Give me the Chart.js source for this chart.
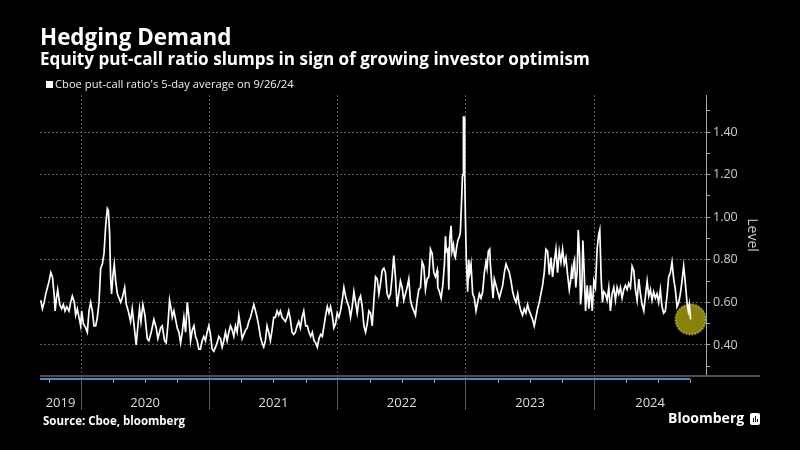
<!DOCTYPE html>
<html>
<head>
<meta charset="utf-8">
<script src="https://cdn.jsdelivr.net/npm/chart.js@4.4.1/dist/chart.umd.min.js"></script>
<style>
  body { margin: 0; background: #000; }
  #wrap { position: relative; width: 800px; height: 450px; background: #000; color: #fff; font-family: "Open Sans", sans-serif; }
  #chart { position: absolute; left: 0; top: 0; }
  .title { position: absolute; left: 40px; top: 26px; font-size: 22.4px; line-height: 22px; font-weight: 700; }
  .subtitle { position: absolute; left: 40px; top: 50px; font-size: 17.1px; line-height: 17px; font-weight: 700; }
  .legend { position: absolute; left: 46px; top: 78px; font-size: 11.2px; line-height: 11px; color: #eee; }
  .legend i { display: inline-block; width: 7px; height: 7px; background: #fff; margin-right: 2px; vertical-align: 0px; }
  .source { position: absolute; left: 43px; top: 415px; font-size: 11.5px; line-height: 12px; font-weight: 700; }
  .brand { position: absolute; left: 668px; top: 410px; font-size: 14px; line-height: 16px; font-weight: 700; }
  .brand .ico { display: inline-block; position: relative; width: 10px; height: 12px; background: #fff; border-radius: 2px; margin-left: 6px; vertical-align: -2px; }
  .brand .ico b { position: absolute; bottom: 3px; width: 1px; background: #000; }
</style>
</head>
<body>
<div id="wrap">
  <canvas id="chart" width="800" height="450"></canvas>
  <div class="title">Hedging Demand</div>
  <div class="subtitle">Equity put-call ratio slumps in sign of growing investor optimism</div>
  <div class="legend"><i></i>Cboe put-call ratio's 5-day average on 9/26/24</div>
  <div class="source">Source: Cboe, bloomberg</div>
  <div class="brand">Bloomberg<span class="ico"><b style="left:3px;height:4px"></b><b style="left:5px;height:6px"></b><b style="left:7px;height:3px"></b></span></div>
</div>
<script>
// put-call ratio, 5-day average (dates as decimal years)
const dates = [
  2019.686, 2019.699, 2019.712, 2019.725, 2019.738, 2019.751, 2019.764, 2019.777, 2019.790, 2019.798,
  2019.808, 2019.818, 2019.834, 2019.849, 2019.862, 2019.875, 2019.888, 2019.906, 2019.919, 2019.932,
  2019.948, 2019.958, 2019.971, 2019.984, 2019.997, 2020.005, 2020.018, 2020.036, 2020.049, 2020.062,
  2020.075, 2020.088, 2020.101, 2020.114, 2020.127, 2020.140, 2020.153, 2020.166, 2020.179, 2020.192,
  2020.205, 2020.213, 2020.223, 2020.231, 2020.238, 2020.249, 2020.259, 2020.270, 2020.283, 2020.296,
  2020.309, 2020.321, 2020.340, 2020.353, 2020.368, 2020.386, 2020.399, 2020.412, 2020.430, 2020.446,
  2020.456, 2020.467, 2020.482, 2020.498, 2020.516, 2020.529, 2020.547, 2020.568, 2020.586, 2020.599,
  2020.620, 2020.633, 2020.651, 2020.664, 2020.679, 2020.690, 2020.705,
  2020.711, 2020.724, 2020.737, 2020.750, 2020.763, 2020.776, 2020.789, 2020.802, 2020.815, 2020.828,
  2020.841, 2020.854, 2020.867, 2020.880, 2020.893, 2020.905, 2020.918, 2020.931, 2020.944, 2020.957,
  2020.970, 2020.983, 2020.996, 2021.009, 2021.022, 2021.035, 2021.048, 2021.061, 2021.074, 2021.087,
  2021.100, 2021.113, 2021.126, 2021.139, 2021.152, 2021.165, 2021.178, 2021.191, 2021.204, 2021.217,
  2021.230, 2021.243, 2021.256, 2021.269, 2021.282, 2021.295, 2021.308, 2021.321, 2021.334, 2021.347,
  2021.360, 2021.372, 2021.385, 2021.398, 2021.411, 2021.424, 2021.437, 2021.450, 2021.463, 2021.476,
  2021.489, 2021.502, 2021.515, 2021.528, 2021.541, 2021.554, 2021.567, 2021.580, 2021.593, 2021.606,
  2021.619, 2021.632, 2021.645, 2021.658, 2021.671, 2021.684, 2021.697, 2021.710, 2021.723, 2021.736,
  2021.751, 2021.764, 2021.777, 2021.790, 2021.803, 2021.816, 2021.829, 2021.842, 2021.855, 2021.868,
  2021.881, 2021.894, 2021.907, 2021.920, 2021.933, 2021.945, 2021.958, 2021.971, 2021.984, 2021.997,
  2022.010, 2022.023, 2022.036, 2022.049, 2022.062, 2022.075, 2022.088, 2022.101, 2022.114, 2022.127,
  2022.140, 2022.153, 2022.166, 2022.179, 2022.192, 2022.205, 2022.218, 2022.231, 2022.244, 2022.257,
  2022.270, 2022.283, 2022.296, 2022.309, 2022.322, 2022.335, 2022.348, 2022.361, 2022.373, 2022.386,
  2022.399, 2022.412, 2022.425, 2022.438, 2022.451, 2022.464, 2022.477, 2022.490, 2022.503, 2022.516,
  2022.529, 2022.542, 2022.555, 2022.568, 2022.581, 2022.594, 2022.607, 2022.620, 2022.633, 2022.646,
  2022.659, 2022.672, 2022.685, 2022.698, 2022.711, 2022.724, 2022.737, 2022.750, 2022.763, 2022.776,
  2022.781, 2022.794, 2022.807, 2022.820, 2022.833, 2022.841, 2022.848, 2022.859, 2022.867, 2022.874,
  2022.885, 2022.892, 2022.903, 2022.911, 2022.918, 2022.926, 2022.937, 2022.950, 2022.957, 2022.968,
  2022.973, 2022.978, 2022.981, 2022.986, 2022.991, 2022.996, 2023.004, 2023.014, 2023.022, 2023.030,
  2023.040, 2023.053, 2023.066, 2023.079, 2023.092, 2023.105, 2023.118, 2023.131, 2023.144, 2023.157,
  2023.165, 2023.175, 2023.186, 2023.191, 2023.201, 2023.212, 2023.222, 2023.235, 2023.248, 2023.261,
  2023.274, 2023.287, 2023.300, 2023.313, 2023.326, 2023.339, 2023.352, 2023.365, 2023.378, 2023.391,
  2023.404, 2023.416, 2023.429, 2023.442, 2023.455, 2023.468, 2023.481, 2023.494, 2023.507, 2023.520,
  2023.533, 2023.546, 2023.559, 2023.572, 2023.585, 2023.598, 2023.611, 2023.624, 2023.637, 2023.650,
  2023.663, 2023.676, 2023.689, 2023.702, 2023.715, 2023.728, 2023.741, 2023.754, 2023.767, 2023.780,
  2023.793, 2023.806,
  2023.816, 2023.824, 2023.832, 2023.839, 2023.847, 2023.857, 2023.868, 2023.876, 2023.886, 2023.894,
  2023.904, 2023.912, 2023.922, 2023.933, 2023.946, 2023.959, 2023.972, 2023.985, 2023.998, 2024.010,
  2024.023, 2024.036, 2024.044, 2024.055, 2024.065, 2024.075, 2024.088, 2024.101, 2024.114, 2024.127,
  2024.140, 2024.153, 2024.166, 2024.179, 2024.192, 2024.205, 2024.218, 2024.231, 2024.244, 2024.257,
  2024.270, 2024.283, 2024.296, 2024.309, 2024.322, 2024.335, 2024.348, 2024.361, 2024.374, 2024.387,
  2024.400, 2024.413, 2024.426, 2024.439, 2024.451, 2024.464, 2024.477, 2024.490, 2024.503, 2024.516,
  2024.529, 2024.542, 2024.555, 2024.568, 2024.581, 2024.594, 2024.607, 2024.620, 2024.633, 2024.646,
  2024.659, 2024.672, 2024.685, 2024.698, 2024.711, 2024.724, 2024.734, 2024.742, 2024.752
];
const ratio = [
  0.61, 0.57, 0.60, 0.64, 0.67, 0.70, 0.74, 0.72, 0.64, 0.56,
  0.62, 0.66, 0.59, 0.57, 0.59, 0.56, 0.58, 0.56, 0.60, 0.63,
  0.60, 0.54, 0.57, 0.53, 0.49, 0.56, 0.50, 0.48, 0.46, 0.56,
  0.60, 0.56, 0.49, 0.49, 0.53, 0.60, 0.76, 0.78, 0.83, 0.96,
  1.04, 1.03, 0.92, 0.71, 0.64, 0.73, 0.78, 0.70, 0.64, 0.62,
  0.60, 0.62, 0.67, 0.59, 0.56, 0.51, 0.57, 0.50, 0.40, 0.51,
  0.57, 0.51, 0.59, 0.54, 0.43, 0.42, 0.46, 0.52, 0.48, 0.43,
  0.48, 0.49, 0.42, 0.41, 0.51, 0.61, 0.56,
  0.53, 0.56, 0.52, 0.48, 0.46, 0.41, 0.46, 0.53, 0.46, 0.60,
  0.53, 0.42, 0.47, 0.49, 0.44, 0.42, 0.38, 0.38, 0.42, 0.44,
  0.42, 0.46, 0.49, 0.45, 0.38, 0.37, 0.39, 0.41, 0.44, 0.43,
  0.39, 0.42, 0.46, 0.42, 0.46, 0.49, 0.47, 0.44, 0.49, 0.46,
  0.54, 0.49, 0.43, 0.45, 0.47, 0.48, 0.51, 0.53, 0.56, 0.59,
  0.56, 0.53, 0.49, 0.44, 0.41, 0.39, 0.42, 0.49, 0.46, 0.42,
  0.47, 0.53, 0.53, 0.56, 0.54, 0.56, 0.53, 0.52, 0.51, 0.53,
  0.56, 0.52, 0.46, 0.45, 0.46, 0.49, 0.51, 0.48, 0.53, 0.56,
  0.49, 0.49, 0.46, 0.44, 0.46, 0.42, 0.41, 0.39, 0.43, 0.45,
  0.44, 0.49, 0.54, 0.58, 0.55, 0.58, 0.54, 0.48, 0.50, 0.55,
  0.53, 0.56, 0.61, 0.67, 0.63, 0.60, 0.58, 0.53, 0.58, 0.65,
  0.60, 0.55, 0.61, 0.63, 0.58, 0.49, 0.46, 0.50, 0.56, 0.55,
  0.49, 0.61, 0.72, 0.71, 0.64, 0.69, 0.75, 0.76, 0.74, 0.64,
  0.62, 0.64, 0.72, 0.82, 0.72, 0.58, 0.64, 0.70, 0.67, 0.61,
  0.64, 0.67, 0.71, 0.61, 0.58, 0.56, 0.54, 0.61, 0.66, 0.67,
  0.79, 0.77, 0.66, 0.71, 0.72, 0.85, 0.83, 0.74, 0.72, 0.75,
  0.67, 0.65, 0.62, 0.68, 0.78, 0.91, 0.84, 0.85, 0.66, 0.90,
  0.96, 0.84, 0.87, 0.82, 0.81, 0.85, 0.89, 0.91, 0.93, 1.10,
  1.19, 1.20, 1.47, 1.47, 1.20, 1.01, 0.79, 0.65, 0.80, 0.74,
  0.78, 0.64, 0.62, 0.56, 0.60, 0.64, 0.62, 0.65, 0.74, 0.79,
  0.76, 0.84, 0.85, 0.78, 0.70, 0.62, 0.71, 0.68, 0.65, 0.62,
  0.65, 0.68, 0.74, 0.78, 0.76, 0.74, 0.70, 0.65, 0.62, 0.60,
  0.64, 0.59, 0.56, 0.54, 0.57, 0.55, 0.59, 0.56, 0.54, 0.52,
  0.49, 0.53, 0.57, 0.60, 0.64, 0.68, 0.74, 0.85, 0.84, 0.73,
  0.81, 0.72, 0.79, 0.85, 0.74, 0.84, 0.79, 0.85, 0.78, 0.81,
  0.73, 0.66,
  0.70, 0.75, 0.71, 0.78, 0.80, 0.67, 0.75, 0.94, 0.83, 0.59,
  0.66, 0.89, 0.75, 0.56, 0.68, 0.57, 0.68, 0.56, 0.70, 0.67,
  0.85, 0.92, 0.94, 0.71, 0.60, 0.65, 0.64, 0.61, 0.67, 0.56,
  0.64, 0.67, 0.61, 0.67, 0.64, 0.67, 0.62, 0.66, 0.68, 0.66,
  0.69, 0.67, 0.77, 0.75, 0.66, 0.61, 0.71, 0.64, 0.59, 0.56,
  0.63, 0.70, 0.63, 0.66, 0.61, 0.65, 0.62, 0.64, 0.60, 0.66,
  0.58, 0.55, 0.56, 0.63, 0.72, 0.74, 0.79, 0.71, 0.66, 0.58,
  0.60, 0.64, 0.70, 0.77, 0.69, 0.60, 0.56, 0.59, 0.52
];

const yearBreaks = [2020, 2021, 2022, 2023, 2024];
const yearLabels = ["2019", "2020", "2021", "2022", "2023", "2024"];
const yTicks = [0.3, 0.4, 0.5, 0.6, 0.7, 0.8, 0.9, 1.0, 1.1, 1.2, 1.3, 1.4, 1.5];
const xMin = 2019.68, xMax = 2024.872;
const yMin = 0.259, yMax = 1.574;

// year labels sit in the middle of each (visible) year
const edges = [xMin, ...yearBreaks, xMax];
const labelPos = yearLabels.map((_, i) => (edges[i] + edges[i + 1]) / 2);
const xTicks = [...labelPos, ...yearBreaks].sort((a, b) => a - b);
const isBreak = (v) => yearBreaks.some((b) => Math.abs(b - v) < 1e-6);
const isMajor = (v) => Math.round(v * 10) % 2 === 0;

// quarter marks on the bottom strip
const quarters = [];
for (let y = 2019; y <= 2024; y++) {
  [0.25, 0.5, 0.75].forEach((q) => {
    if (y + q > xMin && y + q < xMax) quarters.push(y + q);
  });
}

// circle marker (dotted yellow ring)
function makeMarker(r) {
  const c = document.createElement("canvas");
  c.width = c.height = 2 * r + 4;
  const g = c.getContext("2d");
  g.beginPath();
  g.arc(r + 2, r + 2, r, 0, Math.PI * 2);
  g.fillStyle = "#87820c";
  g.fill();
  g.setLineDash([1.5, 1.5]);
  g.lineWidth = 1.5;
  g.strokeStyle = "#f2e94a";
  g.stroke();
  return c;
}

const navStrip = {
  id: "navStrip",
  afterDraw(chart) {
    const { ctx, chartArea: a, scales } = chart;
    const x = scales.x;
    ctx.save();
    ctx.fillStyle = "#4f4f4f";
    ctx.fillRect(a.left, a.bottom, a.right - a.left + 54, 2);
    ctx.fillStyle = "#4a86c8";
    ctx.fillRect(a.left, a.bottom + 3, x.getPixelForValue(dates[dates.length - 1]) - a.left, 2);
    ctx.strokeStyle = "#a0a0a0";
    ctx.lineWidth = 1;
    quarters.forEach((q) => {
      const px = Math.round(x.getPixelForValue(q)) + 0.5;
      ctx.beginPath();
      ctx.moveTo(px, a.bottom + 5);
      ctx.lineTo(px, a.bottom + 8);
      ctx.stroke();
    });
    ctx.restore();
  },
};

const points = dates.map((d, i) => ({ x: d, y: ratio[i] }));
const last = points[points.length - 1];

new Chart(document.getElementById("chart"), {
  type: "line",
  data: {
    datasets: [
      {
        label: "Cboe put-call ratio's 5-day average",
        data: points,
        borderColor: "#ffffff",
        borderWidth: 1.7,
        pointRadius: 0,
        tension: 0,
        order: 0,
      },
      {
        label: "latest",
        data: [last],
        showLine: false,
        pointStyle: makeMarker(15),
        pointRadius: 15,
        order: 1,
      },
    ],
  },
  options: {
    responsive: false,
    animation: false,
    events: [],
    layout: { padding: { top: 95, left: 40, right: 40, bottom: 40 } },
    plugins: { legend: { display: false }, tooltip: { enabled: false } },
    scales: {
      x: {
        type: "linear",
        min: xMin,
        max: xMax,
        afterBuildTicks: (s) => {
          s.ticks = xTicks.map((v) => ({ value: v }));
        },
        afterFit: (s) => {
          s.height = 35;
        },
        ticks: {
          autoSkip: false,
          maxRotation: 0,
          minRotation: 0,
          padding: -15,
          color: "#dddddd",
          font: { family: "Open Sans", size: 13 },
          callback: (v) => {
            const i = labelPos.findIndex((p) => Math.abs(p - v) < 1e-6);
            return i >= 0 ? yearLabels[i] : "";
          },
        },
        grid: {
          color: (c) => (c.tick && isBreak(c.tick.value) ? "#5a5a5a" : "transparent"),
          tickColor: (c) => (c.tick && isBreak(c.tick.value) ? "#5a5a5a" : "transparent"),
          tickLength: 35,
          lineWidth: 1,
        },
        border: { display: false, dash: [2, 2] },
      },
      y: {
        position: "right",
        min: yMin,
        max: yMax,
        afterBuildTicks: (s) => {
          s.ticks = yTicks.map((v) => ({ value: v }));
        },
        afterFit: (s) => {
          s.width = 54;
        },
        ticks: {
          padding: 3,
          color: "#cccccc",
          font: { family: "Open Sans", size: 12.5 },
          callback: (v) => (isMajor(v) ? v.toFixed(2) : ""),
        },
        grid: {
          color: (c) => (c.tick && isMajor(c.tick.value) ? "#5a5a5a" : "transparent"),
          tickColor: "#aaaaaa",
          tickLength: 4,
        },
        border: { display: true, color: "#aaaaaa", width: 1, dash: [2, 2] },
        title: {
          display: true,
          text: "Level",
          color: "#cccccc",
          font: { family: "Open Sans", size: 14 },
          padding: { top: 0, bottom: 0 },
        },
      },
    },
  },
  plugins: [navStrip],
});
</script>
</body>
</html>
